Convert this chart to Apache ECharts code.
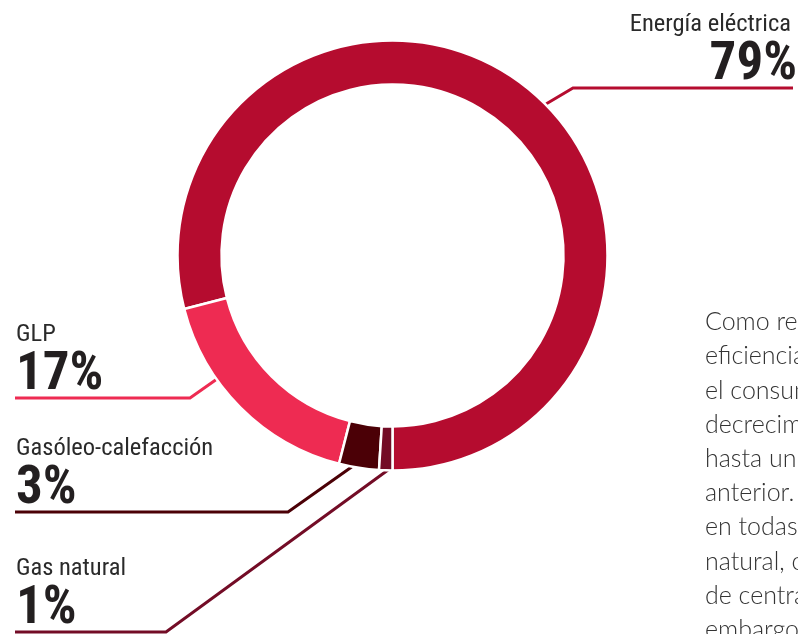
<!DOCTYPE html>
<html><head><meta charset="utf-8">
<script src="https://cdn.jsdelivr.net/npm/echarts@6/dist/echarts.min.js"></script>
<style>html,body{margin:0;padding:0;background:#fff;overflow:hidden}#c{width:798px;height:634px}</style>
</head><body><div id="c"></div>
<script>
const categories = ['Energía eléctrica', 'GLP', 'Gasóleo-calefacción', 'Gas natural'];
const values = [79, 17, 3, 1];
const valueLabels = ['79%', '17%', '3%', '1%'];
const colors = ['#B50C2F', '#EE2B52', '#4B0006', '#730C26'];
const bodyLines = ['Como resultado de', 'eficiencia energética', 'el consumo total', 'decrecimiento', 'hasta un nivel', 'anterior. El', 'en todas las', 'natural, con', 'de centrales', 'embargo, el'];

const labelFont = '"Noto Sans Condensed","Roboto Condensed","DejaVu Sans Condensed",sans-serif';
const layouts = [
  {x: 797, y: 88, align: 'right', pad: 6, pts: [[546, 104], [573, 88], [793, 88]]},
  {x: 16, y: 398, align: 'left', pad: 0, pts: [[217, 379], [190, 398], [15, 398]]},
  {x: 16, y: 512, align: 'left', pad: 0, pts: [[353, 466], [288, 512], [15, 512]]},
  {x: 16, y: 632, align: 'left', pad: 0, pts: [[388, 470], [166, 632], [15, 632]]}
];

const chart = echarts.init(document.getElementById('c'), null, {renderer: 'canvas'});
chart.setOption({
  animation: false,
  backgroundColor: '#fff',
  series: [{
    type: 'pie',
    center: [392.5, 255.5],
    radius: [171, 215],
    startAngle: 270,
    clockwise: false,
    avoidLabelOverlap: false,
    itemStyle: {borderColor: '#fff', borderWidth: 2.5},
    emphasis: {disabled: true},
    label: {
      show: true,
      formatter: p => '{n' + p.dataIndex + '|' + p.name + '}\n{v|' + valueLabels[p.dataIndex] + '}',
      rich: Object.assign({
        v: {fontSize: 53, fontFamily: labelFont, fontWeight: 'bold', color: '#231f20', lineHeight: 52}
      }, Object.fromEntries(layouts.map((l, i) => ['n' + i,
        {fontSize: 24.5, fontFamily: labelFont, color: '#2a2a2a', lineHeight: 30, padding: [0, l.pad, 0, 0]}])))
    },
    labelLine: {show: true, smooth: false, lineStyle: {width: 3}},
    labelLayout: function (params) {
      const l = layouts[params.dataIndex];
      return {x: l.x, y: l.y + 4, align: l.align, verticalAlign: 'bottom', labelLinePoints: l.pts};
    },
    data: categories.map((c, i) => ({
      name: c, value: values[i],
      itemStyle: {color: colors[i]},
      label: {align: layouts[i].align},
      labelLine: {lineStyle: {color: colors[i], width: 3}}
    }))
  }],
  graphic: [{
    type: 'text',
    left: 705, top: 305,
    silent: true,
    style: {
      text: bodyLines.join('\n'),
      fontSize: 25,
      lineHeight: 34.2,
      fontFamily: 'Lato, "Open Sans", sans-serif',
      fontWeight: 300,
      fill: '#333333'
    }
  }]
});
</script></body></html>
